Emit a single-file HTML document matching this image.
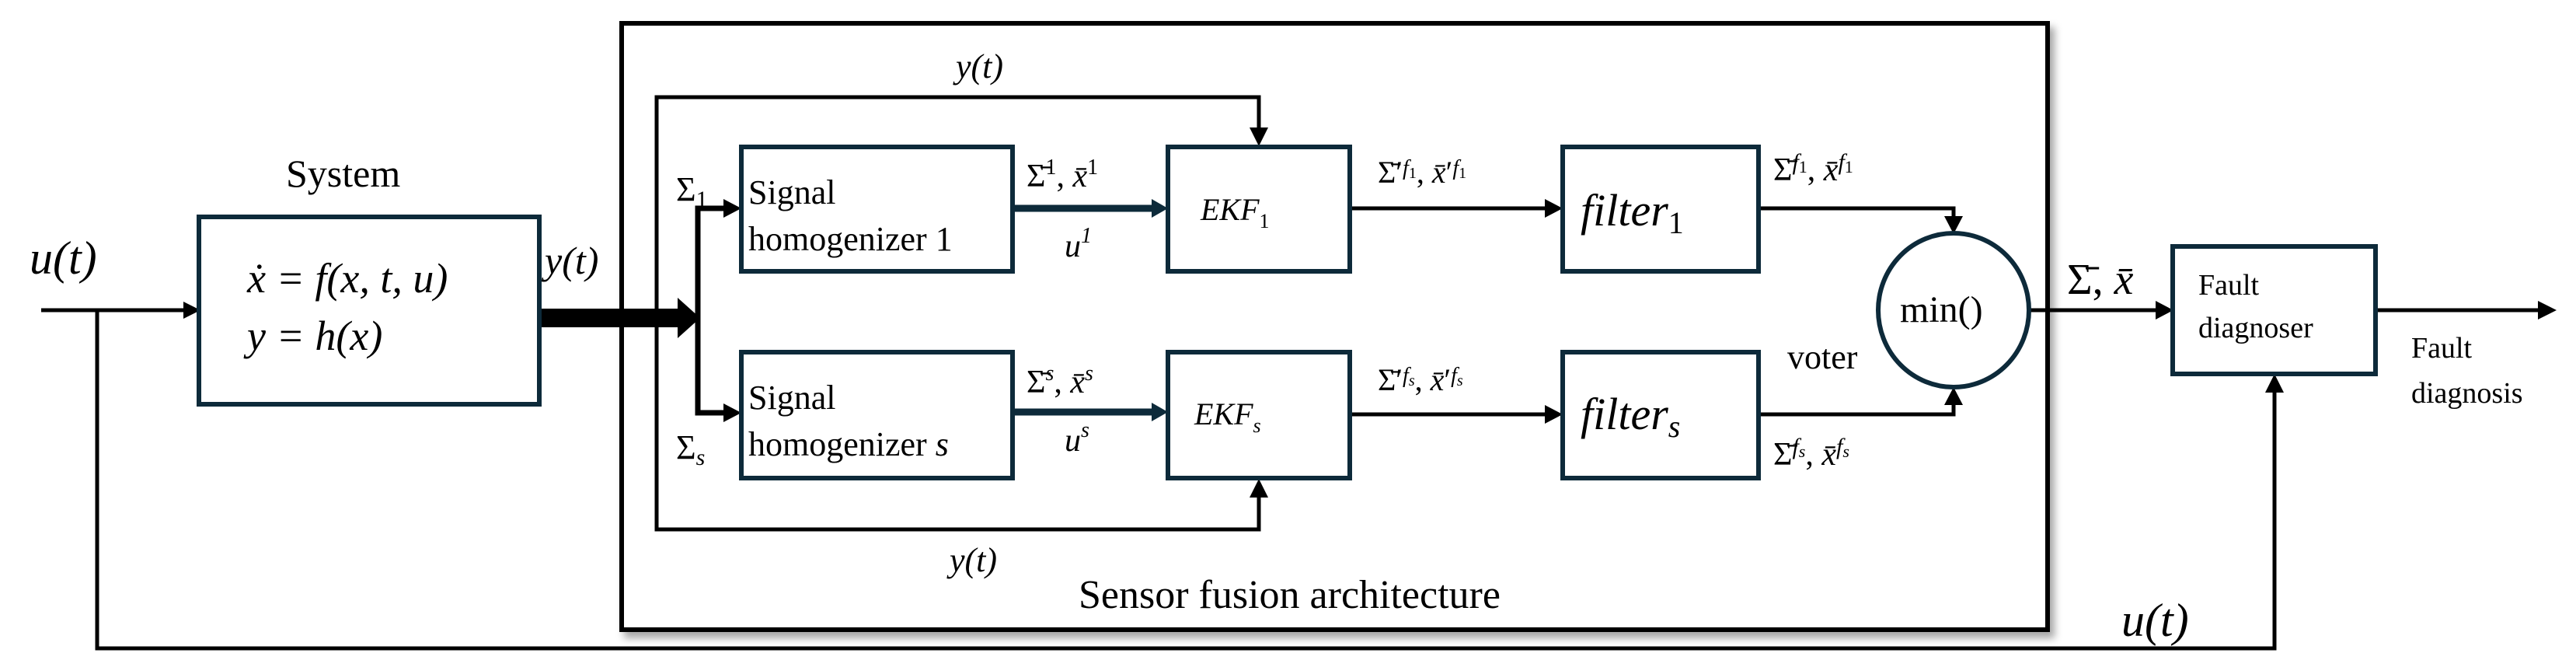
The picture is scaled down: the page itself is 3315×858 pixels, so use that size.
<!DOCTYPE html>
<html><head><meta charset="utf-8"><style>
html,body{margin:0;padding:0;background:#fff;}
svg{display:block;font-family:"Liberation Serif","DejaVu Serif","Times New Roman",serif;}
svg text{font-family:"Liberation Serif","DejaVu Serif","Times New Roman",serif;fill:#000;}
.i{font-style:italic;}
</style></head><body>
<svg width="3315" height="858" viewBox="0 0 3315 858" xmlns="http://www.w3.org/2000/svg" font-family="Liberation Serif, DejaVu Serif, serif">
<defs>
<filter id="sh" x="-5%" y="-5%" width="110%" height="115%"><feDropShadow dx="6" dy="8" stdDeviation="5" flood-color="#000" flood-opacity="0.35"/></filter>
</defs>
<g fill="none" stroke="#000" stroke-width="5">
<rect x="800" y="30" width="1835" height="780" fill="#fff" filter="url(#sh)" stroke-width="6"/>
<line x1="53" y1="399" x2="236" y2="399"/>
<path d="M236,388 L258,399 L236,410 z" fill="#000" stroke="none"/>
<polyline points="125,399 125,834 2927,834 2927,505"/>
<path d="M2915,505 L2927,481 L2939,505 z" fill="#000" stroke="none"/>
<rect x="694" y="397" width="180" height="24" fill="#000" stroke="none"/>
<path d="M872,383 L901,409 L872,435 z" fill="#000" stroke="none"/>
<polyline points="1620,166 1620,125 845,125 845,681 1620,681 1620,638"/>
<path d="M1608,164 L1620,188 L1632,164 z" fill="#000" stroke="none"/>
<path d="M1608,640 L1620,616 L1632,640 z" fill="#000" stroke="none"/>
<polyline points="933,268 898,268 898,531 933,531" stroke-width="7"/>
<path d="M931,256 L954,268 L931,280 z" fill="#000" stroke="none"/>
<path d="M931,519 L954,531 L931,543 z" fill="#000" stroke="none"/>
<line x1="1303" y1="268" x2="1485" y2="268" stroke="#0d2a3a" stroke-width="9"/>
<path d="M1482,256 L1503,268 L1482,280 z" fill="#0d2a3a" stroke="none"/>
<line x1="1303" y1="530" x2="1485" y2="530" stroke="#0d2a3a" stroke-width="9"/>
<path d="M1482,518 L1503,530 L1482,542 z" fill="#0d2a3a" stroke="none"/>
<line x1="1737" y1="268" x2="1990" y2="268"/>
<path d="M1988,256 L2011,268 L1988,280 z" fill="#000" stroke="none"/>
<line x1="1737" y1="533" x2="1990" y2="533"/>
<path d="M1988,521 L2011,533 L1988,545 z" fill="#000" stroke="none"/>
<polyline points="2263,268 2514,268 2514,280"/>
<path d="M2502,278 L2514,301 L2526,278 z" fill="#000" stroke="none"/>
<polyline points="2263,533 2514,533 2514,520"/>
<path d="M2502,521 L2514,498 L2526,521 z" fill="#000" stroke="none"/>
<line x1="2611" y1="399" x2="2776" y2="399"/>
<path d="M2774,387 L2797,399 L2774,411 z" fill="#000" stroke="none"/>
<line x1="3057" y1="399" x2="3268" y2="399"/>
<path d="M3266,387 L3290,399 L3266,411 z" fill="#000" stroke="none"/>
</g>
<g fill="#fff" stroke="#0d2a3a" stroke-width="6">
<rect x="256" y="279" width="438" height="241"/>
<rect x="954" y="189" width="349" height="160"/>
<rect x="954" y="453" width="349" height="162"/>
<rect x="1503" y="189" width="234" height="160"/>
<rect x="1503" y="453" width="234" height="162"/>
<rect x="2011" y="189" width="252" height="160"/>
<rect x="2011" y="453" width="252" height="162"/>
<rect x="2796" y="317" width="261" height="164"/>
<ellipse cx="2514" cy="399" rx="97" ry="99"/>
</g>
<text x="38" y="352" font-size="60" class="i">u(t)</text>
<text x="368" y="240" font-size="50">System</text>
<text x="318" y="376" font-size="54" class="i">ẋ = f(x, t, u)</text>
<text x="318" y="450" font-size="54" class="i">y = h(x)</text>
<text x="701" y="352" font-size="50" class="i">y(t)</text>
<text x="1230" y="100" font-size="44" class="i">y(t)</text>
<text x="1222" y="735" font-size="44" class="i">y(t)</text>
<text x="870" y="258" font-size="44">Σ<tspan font-size="30" dy="8">1</tspan></text>
<text x="870" y="590" font-size="44">Σ<tspan font-size="30" dy="8" class="i">s</tspan></text>
<text x="963" y="262" font-size="44">Signal</text>
<text x="963" y="322" font-size="44">homogenizer 1</text>
<text x="963" y="526" font-size="44">Signal</text>
<text x="963" y="586" font-size="44">homogenizer <tspan class="i">s</tspan></text>
<text x="1321" y="240" font-size="42">Σ̄<tspan font-size="28" dy="-16">1</tspan><tspan dy="16">, </tspan><tspan class="i">x̄</tspan><tspan font-size="28" dy="-16">1</tspan></text>
<text x="1370" y="330" font-size="42" class="i">u<tspan font-size="28" dy="-18">1</tspan></text>
<text x="1321" y="505" font-size="42">Σ̄<tspan font-size="28" dy="-16" class="i">s</tspan><tspan dy="16">, </tspan><tspan class="i">x̄</tspan><tspan font-size="28" dy="-16" class="i">s</tspan></text>
<text x="1370" y="580" font-size="42" class="i">u<tspan font-size="28" dy="-18">s</tspan></text>
<text x="1545" y="283" font-size="40" class="i">EKF<tspan font-size="26" dy="10" font-style="normal">1</tspan></text>
<text x="1537" y="546" font-size="40" class="i">EKF<tspan font-size="26" dy="10">s</tspan></text>
<text x="1773" y="235" font-size="40">Σ̄′<tspan font-size="28" dy="-10" class="i">f</tspan><tspan font-size="20" dy="4">1</tspan><tspan dy="6">, </tspan><tspan class="i">x̄</tspan>′<tspan font-size="28" dy="-10" class="i">f</tspan><tspan font-size="20" dy="4">1</tspan></text>
<text x="1773" y="502" font-size="40">Σ̄′<tspan font-size="28" dy="-10" class="i">f</tspan><tspan font-size="20" dy="4" class="i">s</tspan><tspan dy="6">, </tspan><tspan class="i">x̄</tspan>′<tspan font-size="28" dy="-10" class="i">f</tspan><tspan font-size="20" dy="4" class="i">s</tspan></text>
<text x="2034" y="290" font-size="58" class="i">filter<tspan font-size="40" dy="10" font-style="normal">1</tspan></text>
<text x="2034" y="552" font-size="58" class="i">filter<tspan font-size="40" dy="10">s</tspan></text>
<text x="2282" y="232" font-size="42">Σ̄<tspan font-size="30" dy="-14" class="i">f</tspan><tspan font-size="22" dy="4">1</tspan><tspan dy="10">, </tspan><tspan class="i">x̄</tspan><tspan font-size="30" dy="-14" class="i">f</tspan><tspan font-size="22" dy="4">1</tspan></text>
<text x="2282" y="598" font-size="42">Σ̄<tspan font-size="30" dy="-14" class="i">f</tspan><tspan font-size="22" dy="4" class="i">s</tspan><tspan dy="10">, </tspan><tspan class="i">x̄</tspan><tspan font-size="30" dy="-14" class="i">f</tspan><tspan font-size="22" dy="4" class="i">s</tspan></text>
<text x="2300" y="474" font-size="44">voter</text>
<text x="2445" y="414" font-size="48">min()</text>
<text x="2660" y="378" font-size="56">Σ̄, <tspan class="i">x̄</tspan></text>
<text x="2829" y="379" font-size="38">Fault</text>
<text x="2829" y="434" font-size="38">diagnoser</text>
<text x="3103" y="460" font-size="38">Fault</text>
<text x="3103" y="518" font-size="38">diagnosis</text>
<text x="2730" y="818" font-size="60" class="i">u(t)</text>
<text x="1388" y="782" font-size="52">Sensor fusion architecture</text>
</svg>
</body></html>
